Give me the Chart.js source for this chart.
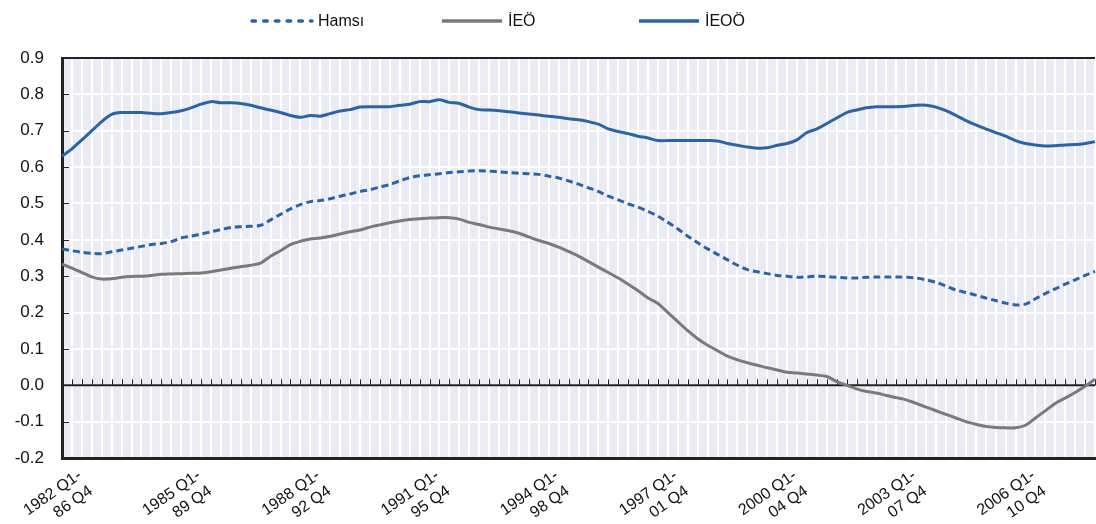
<!DOCTYPE html>
<html>
<head>
<meta charset="utf-8">
<script src="https://cdn.jsdelivr.net/npm/chart.js@4.4.1/dist/chart.umd.min.js"></script>
<style>
  html, body { margin: 0; padding: 0; background: #fff; }
  #wrap { position: relative; width: 1096px; height: 524px; }
  #legend { position: absolute; top: 0; left: 0; width: 1096px; height: 40px;
            font-family: Arial, "Liberation Sans", sans-serif; font-size: 16px; color: #111; }
  .item { position: absolute; top: 10px; height: 22px; display: flex; align-items: center; white-space: nowrap; }
  .item svg { margin-right: 4px; }
</style>
</head>
<body>
<div id="wrap">
  <div id="legend"></div>
  <canvas id="chart" width="1096" height="524"></canvas>
</div>
<script>
// Rolling five-year windows, one per quarter
const categories = [
  '1982 Q1-86 Q4', '1982 Q2-87 Q1', '1982 Q3-87 Q2', '1982 Q4-87 Q3',
  '1983 Q1-87 Q4', '1983 Q2-88 Q1', '1983 Q3-88 Q2', '1983 Q4-88 Q3',
  '1984 Q1-88 Q4', '1984 Q2-89 Q1', '1984 Q3-89 Q2', '1984 Q4-89 Q3',
  '1985 Q1-89 Q4', '1985 Q2-90 Q1', '1985 Q3-90 Q2', '1985 Q4-90 Q3',
  '1986 Q1-90 Q4', '1986 Q2-91 Q1', '1986 Q3-91 Q2', '1986 Q4-91 Q3',
  '1987 Q1-91 Q4', '1987 Q2-92 Q1', '1987 Q3-92 Q2', '1987 Q4-92 Q3',
  '1988 Q1-92 Q4', '1988 Q2-93 Q1', '1988 Q3-93 Q2', '1988 Q4-93 Q3',
  '1989 Q1-93 Q4', '1989 Q2-94 Q1', '1989 Q3-94 Q2', '1989 Q4-94 Q3',
  '1990 Q1-94 Q4', '1990 Q2-95 Q1', '1990 Q3-95 Q2', '1990 Q4-95 Q3',
  '1991 Q1-95 Q4', '1991 Q2-96 Q1', '1991 Q3-96 Q2', '1991 Q4-96 Q3',
  '1992 Q1-96 Q4', '1992 Q2-97 Q1', '1992 Q3-97 Q2', '1992 Q4-97 Q3',
  '1993 Q1-97 Q4', '1993 Q2-98 Q1', '1993 Q3-98 Q2', '1993 Q4-98 Q3',
  '1994 Q1-98 Q4', '1994 Q2-99 Q1', '1994 Q3-99 Q2', '1994 Q4-99 Q3',
  '1995 Q1-99 Q4', '1995 Q2-00 Q1', '1995 Q3-00 Q2', '1995 Q4-00 Q3',
  '1996 Q1-00 Q4', '1996 Q2-01 Q1', '1996 Q3-01 Q2', '1996 Q4-01 Q3',
  '1997 Q1-01 Q4', '1997 Q2-02 Q1', '1997 Q3-02 Q2', '1997 Q4-02 Q3',
  '1998 Q1-02 Q4', '1998 Q2-03 Q1', '1998 Q3-03 Q2', '1998 Q4-03 Q3',
  '1999 Q1-03 Q4', '1999 Q2-04 Q1', '1999 Q3-04 Q2', '1999 Q4-04 Q3',
  '2000 Q1-04 Q4', '2000 Q2-05 Q1', '2000 Q3-05 Q2', '2000 Q4-05 Q3',
  '2001 Q1-05 Q4', '2001 Q2-06 Q1', '2001 Q3-06 Q2', '2001 Q4-06 Q3',
  '2002 Q1-06 Q4', '2002 Q2-07 Q1', '2002 Q3-07 Q2', '2002 Q4-07 Q3',
  '2003 Q1-07 Q4', '2003 Q2-08 Q1', '2003 Q3-08 Q2', '2003 Q4-08 Q3',
  '2004 Q1-08 Q4', '2004 Q2-09 Q1', '2004 Q3-09 Q2', '2004 Q4-09 Q3',
  '2005 Q1-09 Q4', '2005 Q2-10 Q1', '2005 Q3-10 Q2', '2005 Q4-10 Q3',
  '2006 Q1-10 Q4', '2006 Q2-11 Q1', '2006 Q3-11 Q2', '2006 Q4-11 Q3',
  '2007 Q1-11 Q4', '2007 Q2-12 Q1', '2007 Q3-12 Q2', '2007 Q4-12 Q3',
  '2008 Q1-12 Q4'
];

// Hamsı
const hamsi = [
  0.375, 0.37, 0.366, 0.363, 0.362, 0.367, 0.372, 0.377, 0.382, 0.387,
  0.39, 0.395, 0.405, 0.41, 0.416, 0.422, 0.428, 0.434, 0.436, 0.437,
  0.44, 0.455, 0.47, 0.485, 0.497, 0.505, 0.508, 0.513, 0.52, 0.526,
  0.533, 0.538, 0.545, 0.552, 0.562, 0.571, 0.576, 0.579, 0.582, 0.585,
  0.587, 0.589, 0.59, 0.589, 0.587, 0.585, 0.583, 0.582, 0.58, 0.575,
  0.57, 0.562, 0.553, 0.543, 0.533, 0.52, 0.51, 0.499, 0.49, 0.478,
  0.465, 0.448, 0.43, 0.41, 0.392, 0.375, 0.36, 0.345, 0.33, 0.318,
  0.312, 0.307, 0.302, 0.3, 0.297, 0.298, 0.3, 0.299, 0.297, 0.295,
  0.295, 0.297, 0.298, 0.298, 0.298, 0.297, 0.295, 0.29, 0.283, 0.273,
  0.262, 0.255, 0.248, 0.24, 0.233, 0.226, 0.221, 0.223, 0.238, 0.252,
  0.265, 0.278, 0.29, 0.302, 0.313
];

// İEÖ
const ieo = [
  0.333, 0.322, 0.31, 0.298, 0.292, 0.293, 0.297, 0.299, 0.30, 0.302,
  0.305, 0.306, 0.307, 0.308, 0.309, 0.312, 0.317, 0.322, 0.326, 0.33,
  0.336, 0.355, 0.37, 0.387, 0.396, 0.402, 0.405, 0.41, 0.416, 0.422,
  0.427, 0.435, 0.441, 0.447, 0.452, 0.456, 0.458, 0.46, 0.461, 0.461,
  0.457, 0.448, 0.442, 0.435, 0.43, 0.425, 0.418, 0.408, 0.398, 0.39,
  0.38, 0.368, 0.355, 0.34, 0.325, 0.31, 0.295, 0.278, 0.26, 0.24,
  0.225, 0.2, 0.175, 0.15, 0.128, 0.11, 0.095, 0.08, 0.07, 0.062,
  0.055, 0.048, 0.042, 0.036, 0.034, 0.031, 0.028, 0.024, 0.01, 0.0,
  -0.01, -0.017, -0.021, -0.028, -0.034, -0.04, -0.05, -0.06, -0.07, -0.08,
  -0.09, -0.1, -0.107, -0.113, -0.116, -0.117, -0.117, -0.11, -0.09, -0.07,
  -0.05, -0.035, -0.02, -0.003, 0.017
];

// İEOÖ
const ieoo = [
  0.63, 0.65, 0.675, 0.70, 0.725, 0.745, 0.75, 0.75, 0.75, 0.748,
  0.747, 0.75, 0.755, 0.763, 0.773, 0.78, 0.777, 0.777, 0.775, 0.77,
  0.763, 0.757, 0.75, 0.742, 0.737, 0.742, 0.74, 0.747, 0.754, 0.758,
  0.765, 0.766, 0.766, 0.766, 0.77, 0.773, 0.78, 0.78, 0.785, 0.778,
  0.775, 0.765, 0.758, 0.757, 0.755, 0.752, 0.749, 0.746, 0.743, 0.74,
  0.737, 0.733, 0.73, 0.725, 0.718, 0.705, 0.698, 0.692, 0.685, 0.68,
  0.673, 0.673, 0.673, 0.673, 0.673, 0.673, 0.672, 0.665, 0.66, 0.655,
  0.652, 0.653, 0.66, 0.665, 0.675, 0.695, 0.705, 0.72, 0.735, 0.75,
  0.757, 0.763, 0.766, 0.766, 0.766, 0.767, 0.77, 0.77, 0.765, 0.755,
  0.742, 0.728, 0.716, 0.705, 0.695, 0.685, 0.673, 0.665, 0.661, 0.658,
  0.659, 0.661, 0.662, 0.665, 0.67
];

const yMin = -0.2;
const yMax = 0.9;
const yStep = 0.1;
const labelEvery = 12;

const colors = {
    blue: '#2c63a5',
    gray: '#7a7a7a',
    plotBg: '#ebebf3',
    axis: '#222222',
    text: '#111111'
};

Chart.defaults.font.family = 'Arial, "Liberation Sans", sans-serif';
Chart.defaults.color = colors.text;

// Background, top border, zero line with category ticks, inner y ticks
const plotFrame = {
    id: 'plotFrame',
    beforeDraw(chart) {
        const { ctx, chartArea: a } = chart;
        ctx.save();
        ctx.fillStyle = colors.plotBg;
        ctx.fillRect(a.left, a.top, a.right - a.left, a.bottom - a.top);
        ctx.restore();
    },
    beforeDatasetsDraw(chart) {
        const { ctx, chartArea: a, scales } = chart;
        const y0 = scales.y.getPixelForValue(0);
        ctx.save();
        ctx.strokeStyle = colors.axis;

        ctx.lineWidth = 2;
        ctx.beginPath();
        ctx.moveTo(a.left, a.top);
        ctx.lineTo(a.right, a.top);
        ctx.moveTo(a.left, y0);
        ctx.lineTo(a.right, y0);
        ctx.stroke();

        ctx.lineWidth = 1;
        ctx.beginPath();
        scales.x.ticks.forEach((t, i) => {
            const x = Math.round(scales.x.getPixelForTick(i)) + 0.5;
            ctx.moveTo(x, y0);
            ctx.lineTo(x, y0 - 6);
        });
        scales.y.ticks.forEach(t => {
            const y = Math.round(scales.y.getPixelForValue(t.value)) + 0.5;
            ctx.moveTo(a.left, y);
            ctx.lineTo(a.left + 7, y);
        });
        ctx.stroke();
        ctx.restore();
    }
};

function splitLabel(s) {
    const parts = s.split('-');
    return [parts[0] + '-', parts[1]];
}

const datasets = [{
    label: 'Hamsı',
    data: hamsi,
    borderColor: colors.blue,
    borderWidth: 3,
    borderDash: [7, 4],
    pointRadius: 0,
    tension: 0.3
}, {
    label: 'İEÖ',
    data: ieo,
    borderColor: colors.gray,
    borderWidth: 3,
    pointRadius: 0,
    tension: 0.3
}, {
    label: 'İEOÖ',
    data: ieoo,
    borderColor: colors.blue,
    borderWidth: 3,
    pointRadius: 0,
    tension: 0.3
}];

const chart = new Chart(document.getElementById('chart'), {
    type: 'line',
    data: { labels: categories, datasets: datasets },
    options: {
        responsive: false,
        animation: false,
        devicePixelRatio: 1,
        layout: { padding: { top: 58, right: 1, left: 0, bottom: 0 } },
        scales: {
            x: {
                offset: false,
                grid: { color: '#ffffff', lineWidth: 2, drawTicks: false },
                border: { display: true, color: colors.axis, width: 3 },
                ticks: {
                    autoSkip: false,
                    minRotation: 35,
                    maxRotation: 35,
                    labelOffset: 18,
                    padding: 8,
                    font: { size: 16 },
                    color: colors.text,
                    callback: (v, i) => i % labelEvery === 0 ? splitLabel(categories[i]) : ''
                },
                afterFit: s => { s.height = 66; s.paddingLeft = 0; s.paddingRight = 0; }
            },
            y: {
                min: yMin,
                max: yMax,
                grid: { color: '#ffffff', lineWidth: 2, drawTicks: false },
                border: { display: true, color: colors.axis, width: 3 },
                ticks: {
                    stepSize: yStep,
                    padding: 18,
                    font: { size: 17 },
                    color: colors.text,
                    callback: v => v.toFixed(1)
                },
                afterFit: s => { s.width = 62; }
            }
        },
        plugins: {
            legend: { display: false },
            tooltip: { enabled: false }
        }
    },
    plugins: [plotFrame]
});

// HTML legend placed like the original
const legendSpots = [250, 440, 637];
const legendEl = document.getElementById('legend');
chart.data.datasets.forEach((ds, i) => {
    const item = document.createElement('div');
    item.className = 'item';
    item.style.left = legendSpots[i] + 'px';
    const dash = ds.borderDash ? 'stroke-dasharray="3.5 8.2" stroke-linecap="round"' : '';
    item.innerHTML = '<svg width="64" height="8"><line x1="2" y1="4" x2="62" y2="4" stroke="' +
        ds.borderColor + '" stroke-width="3.5" ' + dash + '/></svg><span>' + ds.label + '</span>';
    legendEl.appendChild(item);
});
</script>
</body>
</html>
